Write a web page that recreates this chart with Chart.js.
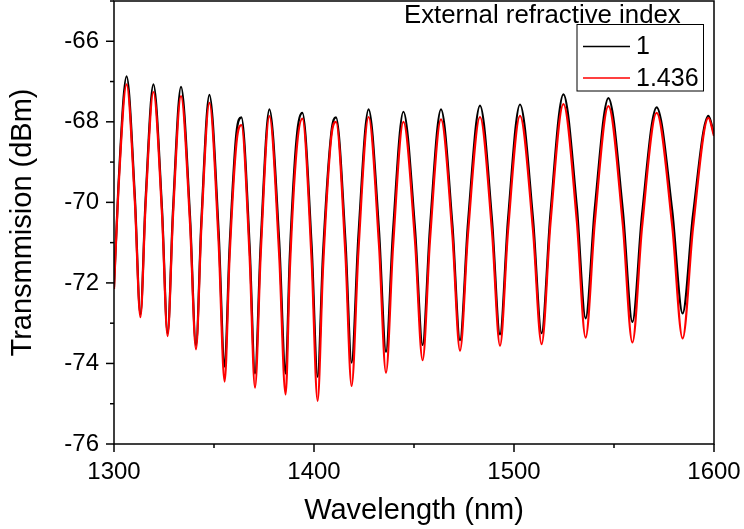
<!DOCTYPE html>
<html>
<head>
<meta charset="utf-8">
<script src="https://cdn.jsdelivr.net/npm/chart.js@4/dist/chart.umd.min.js"></script>
<style>
  html, body { margin: 0; padding: 0; background: #fff; }
  #wrap { width: 744px; height: 529px; }
</style>
</head>
<body>
<div id="wrap"><canvas id="specChart" width="744" height="529"></canvas></div>
<script>
// wavelength (nm) of read points: peaks, dips and mid-flank points
const wavelength = [
  1300, 1302.2, 1306.3, 1310.4, 1313.2, 1315.8, 1319.7, 1324.0, 1326.8, 1329.5,
  1333.5, 1338.0, 1341.0, 1343.7, 1347.7, 1352.3, 1355.3, 1357.8, 1361.2, 1363.7,
  1367.8, 1370.5, 1373.4, 1377.7, 1382.6, 1385.8, 1387.9, 1391.3, 1394.2, 1398.8,
  1401.8, 1404.5, 1408.7, 1411.0, 1415.7, 1418.8, 1422.2, 1427.3, 1432.5, 1436.0,
  1439.5, 1444.7, 1450.5, 1454.3, 1458.0, 1463.5, 1469.2, 1473.0, 1477.0, 1483.0,
  1489.0, 1493.0, 1497.0, 1503.0, 1509.5, 1513.8, 1518.2, 1524.7, 1531.4, 1535.8,
  1540.4, 1547.2, 1554.4, 1559.2, 1564.0, 1571.3, 1579.1, 1584.3, 1589.5, 1597.2,
  1600
];

// external index 1 (black)
const trans_n1 = [
  -72.10, -69.60, -66.87, -69.83, -72.78, -69.93, -67.07, -70.16, -73.25, -70.19,
  -67.13, -70.34, -73.55, -70.44, -67.33, -70.71, -74.08, -71.10, -68.28, -67.89,
  -71.07, -74.25, -70.97, -67.69, -70.97, -74.25, -71.33, -68.41, -67.78, -71.06,
  -74.33, -71.29, -68.25, -67.89, -70.94, -73.98, -70.84, -67.69, -70.70, -73.71,
  -70.73, -67.75, -70.65, -73.54, -70.62, -67.69, -70.56, -73.42, -70.51, -67.60,
  -70.44, -73.28, -70.43, -67.57, -70.41, -73.25, -70.29, -67.32, -70.10, -72.88,
  -70.15, -67.41, -70.19, -72.97, -70.31, -67.64, -70.20, -72.76, -70.31, -67.85,
  -68.30
];

// external index 1.436 (red)
const trans_n1436 = [
  -72.15, -69.70, -67.07, -69.96, -72.85, -70.06, -67.26, -70.29, -73.32, -70.34,
  -67.36, -70.51, -73.65, -70.59, -67.53, -70.99, -74.45, -71.35, -68.54, -68.08,
  -71.34, -74.60, -71.23, -67.86, -71.32, -74.77, -71.70, -68.70, -67.92, -71.43,
  -74.93, -71.64, -68.35, -68.00, -71.28, -74.56, -71.22, -67.88, -71.06, -74.23,
  -71.12, -68.00, -70.96, -73.92, -70.93, -67.94, -70.81, -73.68, -70.78, -67.88,
  -70.72, -73.56, -70.71, -67.85, -70.69, -73.52, -70.54, -67.56, -70.46, -73.36,
  -70.49, -67.61, -70.55, -73.48, -70.63, -67.78, -70.58, -73.38, -70.64, -67.90,
  -68.35
];

const seriesLabels = ['1', '1.436'];
const seriesColors = ['#000000', '#ff0000'];
const legendTitle = 'External refractive index';

const FONT = '"Liberation Sans", Arial, sans-serif';

// frame, outward tick marks (long majors, short minors) and the legend box
const framePlugin = {
  id: 'frame',
  afterDraw(chart) {
    const ctx = chart.ctx;
    const a = chart.chartArea;
    ctx.save();
    ctx.strokeStyle = '#000';
    ctx.lineWidth = 1.5;
    ctx.strokeRect(a.left, a.top, a.right - a.left, a.bottom - a.top);

    const xs = chart.scales.x;
    xs.ticks.forEach(t => {
      const px = xs.getPixelForValue(t.value);
      const len = t.value % 100 === 0 ? 8 : 4;
      ctx.beginPath();
      ctx.moveTo(px, a.bottom);
      ctx.lineTo(px, a.bottom + len);
      ctx.stroke();
    });
    const ys = chart.scales.y;
    ys.ticks.forEach(t => {
      const py = ys.getPixelForValue(t.value);
      const len = t.value % 2 === 0 ? 8 : 4;
      ctx.beginPath();
      ctx.moveTo(a.left, py);
      ctx.lineTo(a.left - len, py);
      ctx.stroke();
    });

    // legend
    ctx.fillStyle = '#000';
    ctx.font = '25.8px ' + FONT;
    ctx.textBaseline = 'alphabetic';
    ctx.textAlign = 'left';
    ctx.fillText(legendTitle, 404, 23);

    const bx = 577, by = 24.5, bw = 126.5, bh = 66.5;
    ctx.lineWidth = 1;
    ctx.strokeRect(bx, by, bw, bh);
    ctx.font = '25px ' + FONT;
    ctx.textBaseline = 'middle';
    chart.data.datasets.forEach((ds, i) => {
      const ly = by + 22 + i * 31.5;
      ctx.strokeStyle = ds.borderColor;
      ctx.lineWidth = 1.5;
      ctx.beginPath();
      ctx.moveTo(bx + 6, ly);
      ctx.lineTo(bx + 53, ly);
      ctx.stroke();
      ctx.fillStyle = '#000';
      ctx.fillText(ds.label, bx + 59, ly + 1);
    });
    ctx.restore();
  }
};

new Chart(document.getElementById('specChart'), {
  type: 'line',
  data: {
    datasets: [
      {
        label: seriesLabels[0],
        data: wavelength.map((w, i) => ({ x: w, y: trans_n1[i] })),
        borderColor: seriesColors[0],
        borderWidth: 2.2,
        pointRadius: 0,
        cubicInterpolationMode: 'monotone',
        fill: false,
        order: 1
      },
      {
        label: seriesLabels[1],
        data: wavelength.map((w, i) => ({ x: w, y: trans_n1436[i] })),
        borderColor: seriesColors[1],
        borderWidth: 2.2,
        pointRadius: 0,
        cubicInterpolationMode: 'monotone',
        fill: false,
        order: 0
      }
    ]
  },
  options: {
    responsive: false,
    animation: false,
    devicePixelRatio: 1,
    layout: { padding: { top: 1, right: 30, left: 0, bottom: 0 } },
    plugins: {
      legend: { display: false },
      tooltip: { enabled: false }
    },
    scales: {
      x: {
        type: 'linear',
        min: 1300,
        max: 1600,
        grid: { display: false, drawTicks: false },
        border: { display: false },
        ticks: {
          stepSize: 50,
          autoSkip: false,
          maxRotation: 0,
          padding: 14,
          color: '#000',
          font: { family: FONT, size: 24 },
          callback: v => (v % 100 === 0 ? v : '')
        },
        title: {
          display: true,
          text: 'Wavelength (nm)',
          color: '#000',
          font: { family: FONT, size: 29 },
          padding: { top: 0, bottom: 1 }
        },
        afterFit: s => {
          s.height = 85;
          s.paddingLeft = 0;
          s.paddingRight = 0;
        }
      },
      y: {
        min: -76,
        max: -65,
        grid: { display: false, drawTicks: false },
        border: { display: false },
        ticks: {
          stepSize: 1,
          autoSkip: false,
          padding: 15,
          color: '#000',
          font: { family: FONT, size: 24 },
          callback: v => (v % 2 === 0 ? v : '')
        },
        title: {
          display: true,
          text: 'Transmmision (dBm)',
          color: '#000',
          font: { family: FONT, size: 29 },
          padding: { top: 6, bottom: 0 }
        },
        afterFit: s => {
          s.width = 114;
          s.paddingTop = 0;
          s.paddingBottom = 0;
        }
      }
    }
  },
  plugins: [framePlugin]
});
</script>
</body>
</html>
